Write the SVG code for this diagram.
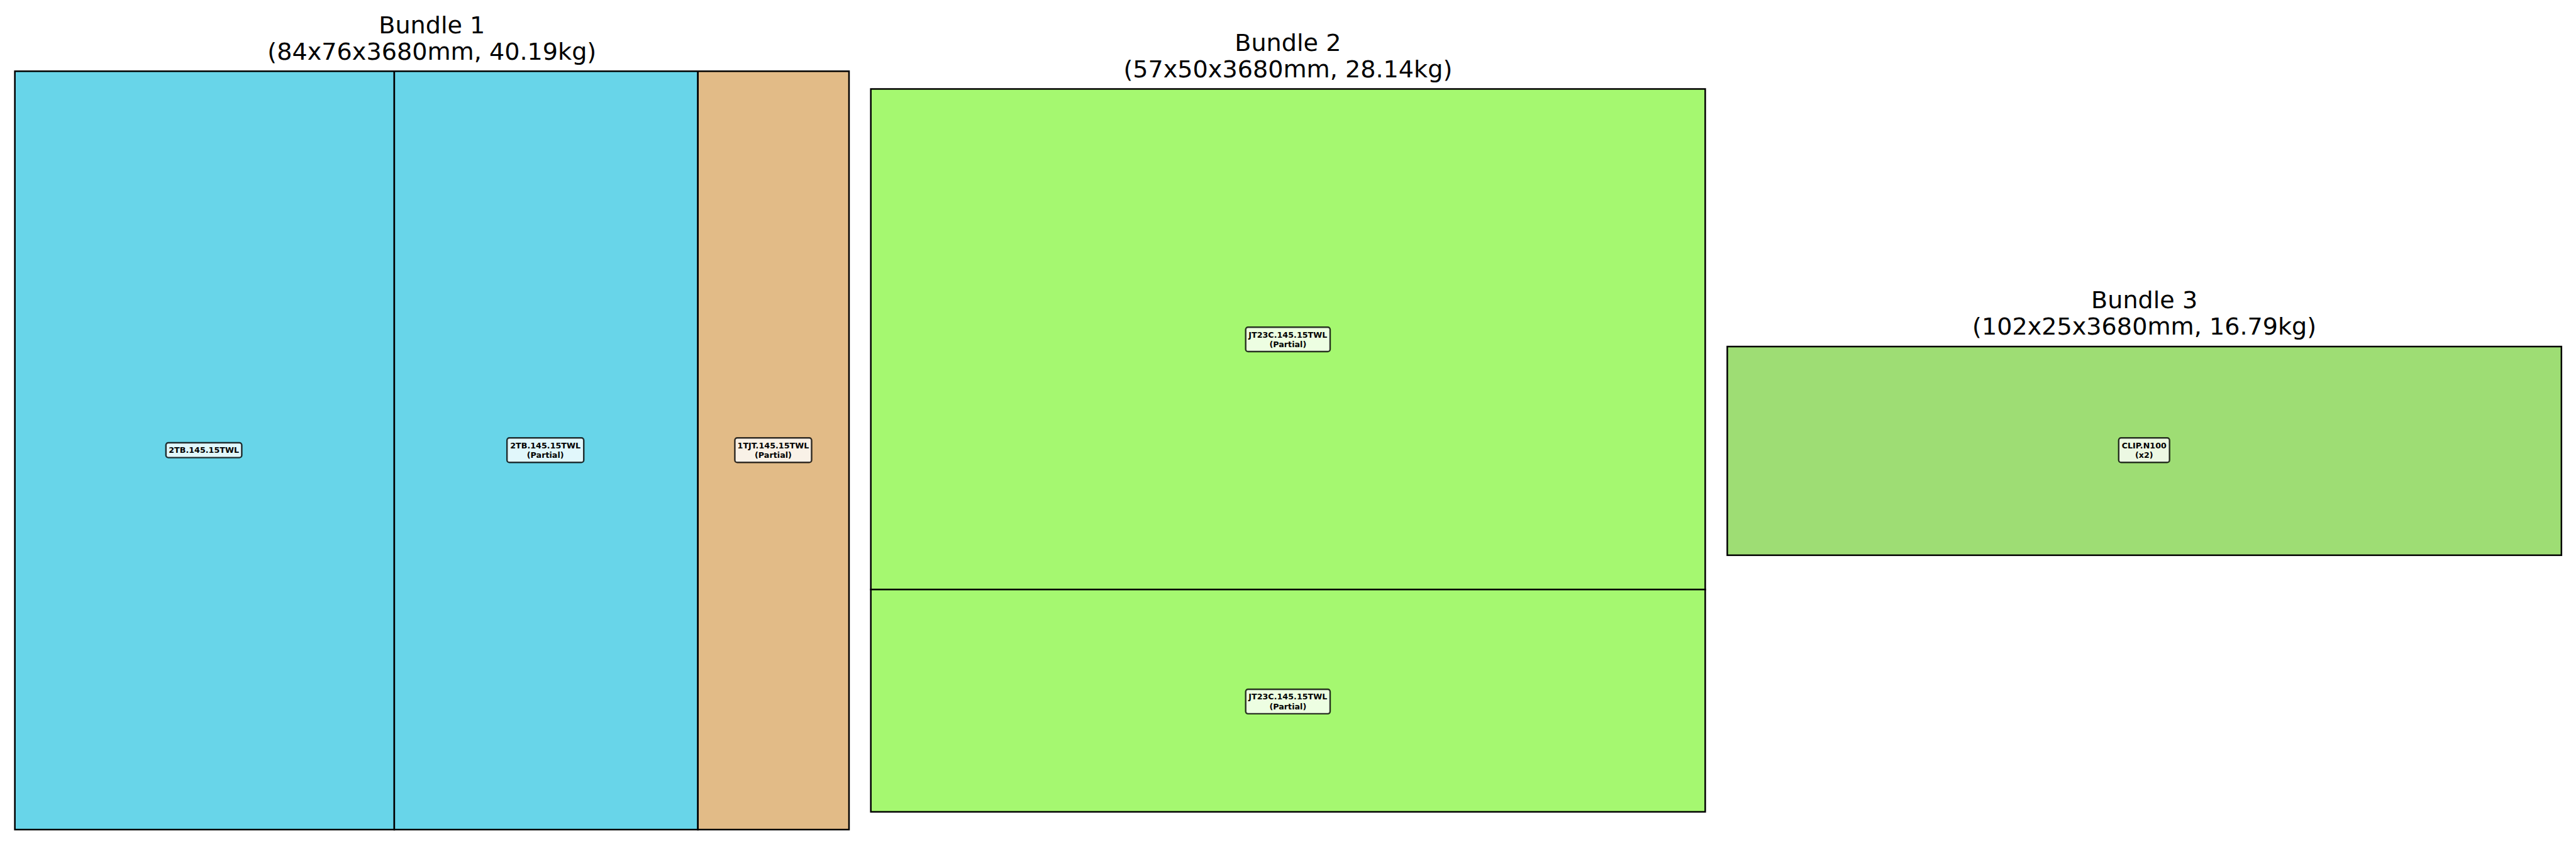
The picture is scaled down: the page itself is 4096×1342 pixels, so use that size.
<svg xmlns="http://www.w3.org/2000/svg" width="4096" height="1342" viewBox="0 0 4096 1342">
<style>
.part{stroke:#000;stroke-width:3.3}
.title{font-family:"DejaVu Sans",sans-serif;font-size:50px;fill:#000;text-anchor:middle}
.lbl{font-family:"DejaVu Sans",sans-serif;font-size:16.7px;font-weight:bold;fill:#000;text-anchor:middle}
.lbox{fill:#fff;fill-opacity:0.8;stroke:#000;stroke-opacity:0.8;stroke-width:3.2}
</style>
<rect width="4096" height="1342" fill="#fff"/>
<g transform="scale(0.7627)">
<g id="bundle1">
<text class="title" x="900.5" y="69">Bundle 1</text>
<text class="title" x="900.5" y="124">(84x76x3680mm, 40.19kg)</text>
<g id="b1-part1">
<rect class="part" x="31" y="148.5" width="791" height="1581" fill="#68D5E9"/>
<rect class="lbox" x="346" y="923" width="158" height="31" rx="5"/>
<text class="lbl" x="425" y="944.5">2TB.145.15TWL</text>
</g>
<g id="b1-part2">
<rect class="part" x="822" y="148.5" width="633" height="1581" fill="#68D5E9"/>
<rect class="lbox" x="1057" y="913" width="160" height="51" rx="5"/>
<text class="lbl" x="1137" y="934.5">2TB.145.15TWL</text>
<text class="lbl" x="1137" y="954.5">(Partial)</text>
</g>
<g id="b1-part3">
<rect class="part" x="1455" y="148.5" width="315" height="1581" fill="#E2BB87"/>
<rect class="lbox" x="1532" y="913" width="160" height="51" rx="5"/>
<text class="lbl" x="1612" y="934.5">1TJT.145.15TWL</text>
<text class="lbl" x="1612" y="954.5">(Partial)</text>
</g>
</g>
<g id="bundle2">
<text class="title" x="2685" y="106">Bundle 2</text>
<text class="title" x="2685" y="161">(57x50x3680mm, 28.14kg)</text>
<g id="b2-part1">
<rect class="part" x="1815.5" y="185.5" width="1739.5" height="1043.5" fill="#A5F870"/>
<rect class="lbox" x="2597" y="682" width="176" height="51" rx="5"/>
<text class="lbl" x="2685" y="703.5">JT23C.145.15TWL</text>
<text class="lbl" x="2685" y="723.5">(Partial)</text>
</g>
<g id="b2-part2">
<rect class="part" x="1815.5" y="1229" width="1739.5" height="463.5" fill="#A5F870"/>
<rect class="lbox" x="2597" y="1437" width="176" height="51" rx="5"/>
<text class="lbl" x="2685" y="1458.5">JT23C.145.15TWL</text>
<text class="lbl" x="2685" y="1478.5">(Partial)</text>
</g>
</g>
<g id="bundle3">
<text class="title" x="4470.5" y="643">Bundle 3</text>
<text class="title" x="4470.5" y="698">(102x25x3680mm, 16.79kg)</text>
<g id="b3-part1">
<rect class="part" x="3601" y="722.5" width="1739" height="435" fill="#9EDD74"/>
<rect class="lbox" x="4417" y="913" width="106" height="51" rx="5"/>
<text class="lbl" x="4470" y="934.5">CLIP.N100</text>
<text class="lbl" x="4470" y="954.5">(x2)</text>
</g>
</g>
<g id="connectors"/>
</g>
</svg>
